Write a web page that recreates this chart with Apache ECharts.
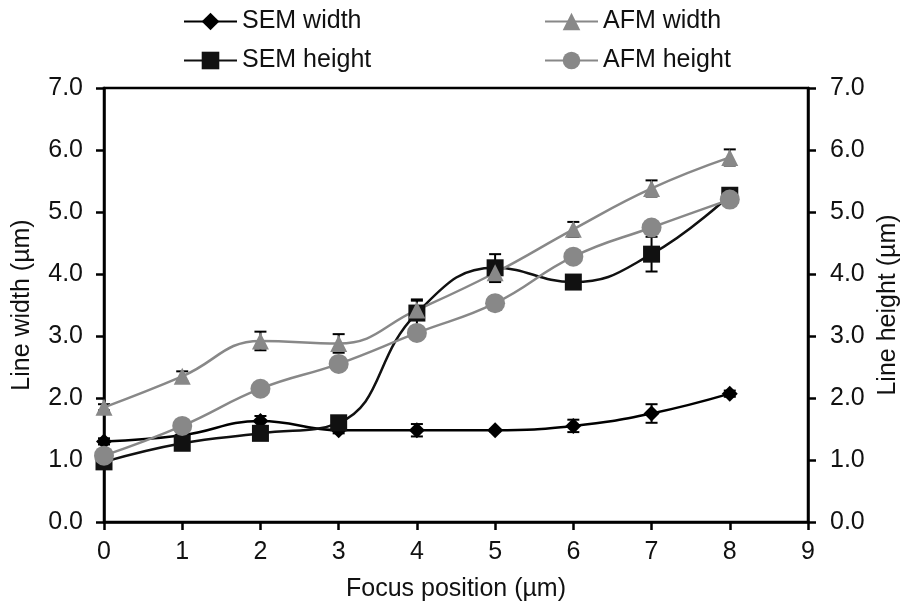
<!DOCTYPE html>
<html>
<head>
<meta charset="utf-8">
<title>Line width and height versus focus position</title>
<script src="https://cdn.jsdelivr.net/npm/echarts@6/dist/echarts.min.js"></script>
<style>
  html, body { margin: 0; padding: 0; background: #fff; }
  #chart { width: 909px; height: 607px; }
</style>
</head>
<body>
<div id="chart"></div>
<script>
// Focus positions (µm)
const focusPositions = [0, 1, 2, 3, 4, 5, 6, 7, 8];

// Measured line dimensions (µm)
const semWidth  = [1.30, 1.40, 1.63, 1.48, 1.48, 1.48, 1.55, 1.75, 2.07];
const semHeight = [0.97, 1.27, 1.43, 1.60, 3.37, 4.10, 3.87, 4.32, 5.27];
const afmWidth  = [1.85, 2.35, 2.92, 2.88, 3.42, 4.02, 4.72, 5.38, 5.88];
const afmHeight = [1.07, 1.55, 2.15, 2.55, 3.05, 3.53, 4.28, 4.75, 5.20];

// Standard deviations (µm)
const semWidthErr  = [0.05, 0.05, 0.08, 0.05, 0.10, 0.02, 0.10, 0.15, 0.05];
const semHeightErr = [0.05, 0.05, 0.05, 0.05, 0.22, 0.22, 0.05, 0.28, 0.05];
const afmWidthErr  = [0.05, 0.08, 0.15, 0.15, 0.15, 0.15, 0.12, 0.13, 0.13];
const afmHeightErr = [0.03, 0.03, 0.03, 0.03, 0.03, 0.03, 0.03, 0.03, 0.03];

// Axis tick labels
const yTickLabels = ['0.0', '1.0', '2.0', '3.0', '4.0', '5.0', '6.0', '7.0'];

const BLACK = '#000000';
const GREY = '#888888';
const FONT = 'Liberation Sans, Arial, sans-serif';
const FS = 25;

function points(values) {
  return focusPositions.map((x, i) => [x, values[i]]);
}
function errRows(values, errs) {
  return focusPositions.map((x, i) => [x, values[i] - errs[i], values[i] + errs[i]]);
}

function errorBarSeries(name, values, errs, yAxisIndex) {
  return {
    type: 'custom',
    name: name + ' error',
    xAxisIndex: 0,
    yAxisIndex: yAxisIndex,
    data: errRows(values, errs),
    z: 1,
    silent: true,
    renderItem: function (params, api) {
      const x = api.value(0);
      const lo = api.coord([x, api.value(1)]);
      const hi = api.coord([x, api.value(2)]);
      const half = 6;
      const style = { stroke: BLACK, lineWidth: 2, fill: null };
      return {
        type: 'group',
        children: [
          { type: 'line', shape: { x1: lo[0], y1: lo[1], x2: hi[0], y2: hi[1] }, style: style },
          { type: 'line', shape: { x1: lo[0] - half, y1: lo[1], x2: lo[0] + half, y2: lo[1] }, style: style },
          { type: 'line', shape: { x1: hi[0] - half, y1: hi[1], x2: hi[0] + half, y2: hi[1] }, style: style }
        ]
      };
    }
  };
}

function lineSeries(name, values, color, symbol, size, yAxisIndex, lw) {
  return {
    type: 'line',
    name: name,
    xAxisIndex: 0,
    yAxisIndex: yAxisIndex,
    data: points(values),
    smooth: 0.45,
    symbol: symbol,
    symbolSize: size,
    showAllSymbol: true,
    z: 3,
    lineStyle: { color: color, width: lw },
    itemStyle: { color: color, borderWidth: 0, opacity: 1 },
    emphasis: { disabled: true }
  };
}

const axisCommon = {
  type: 'value',
  min: 0,
  max: 7,
  interval: 1,
  splitLine: { show: false },
  axisLine: { show: true, lineStyle: { color: BLACK, width: 2.5 } },
  axisTick: { show: true, inside: false, length: 8, lineStyle: { color: BLACK, width: 2.5 } },
  axisLabel: {
    color: '#111', fontFamily: FONT, fontSize: FS,
    formatter: v => yTickLabels[Math.round(v)]
  },
  nameLocation: 'middle',
  nameTextStyle: { color: '#111', fontFamily: FONT, fontSize: FS }
};

const legendText = { color: '#111', fontFamily: FONT, fontSize: FS };

const option = {
  animation: false,
  backgroundColor: '#ffffff',
  legend: [
    {
      data: ['SEM width', 'SEM height'],
      orient: 'vertical',
      left: 178, top: 4,
      itemWidth: 53, itemHeight: 22, itemGap: 14,
      textStyle: legendText,
      selectedMode: false
    },
    {
      data: ['AFM width', 'AFM height'],
      orient: 'vertical',
      left: 539, top: 4,
      itemWidth: 53, itemHeight: 22, itemGap: 14,
      textStyle: legendText,
      selectedMode: false
    }
  ],
  grid: { left: 104, right: 100, top: 88, bottom: 85, containLabel: false,
          show: true, borderColor: BLACK, borderWidth: 2.5 },
  xAxis: {
    type: 'value',
    min: 0, max: 9, interval: 1,
    splitLine: { show: false },
    axisLine: { show: true, onZero: false, lineStyle: { color: BLACK, width: 2.5 } },
    axisTick: { show: true, length: 8, lineStyle: { color: BLACK, width: 2.5 } },
    axisLabel: { color: '#111', fontFamily: FONT, fontSize: FS, margin: 18 },
    name: 'Focus position (µm)',
    nameLocation: 'middle',
    nameGap: 55,
    nameTextStyle: { color: '#111', fontFamily: FONT, fontSize: FS }
  },
  yAxis: [
    Object.assign({}, axisCommon, {
      position: 'left', name: 'Line width (µm)', nameGap: 69,
      axisLabel: Object.assign({}, axisCommon.axisLabel, { margin: 21 })
    }),
    Object.assign({}, axisCommon, {
      position: 'right', name: 'Line height (µm)', nameGap: 68,
      axisLabel: Object.assign({}, axisCommon.axisLabel, { margin: 22 })
    })
  ],
  series: [
    errorBarSeries('SEM width', semWidth, semWidthErr, 0),
    errorBarSeries('SEM height', semHeight, semHeightErr, 1),
    errorBarSeries('AFM width', afmWidth, afmWidthErr, 0),
    errorBarSeries('AFM height', afmHeight, afmHeightErr, 1),
    lineSeries('SEM width', semWidth, BLACK, 'diamond', 16, 0, 2.5),
    lineSeries('SEM height', semHeight, '#111111', 'rect', 17, 1, 2.5),
    lineSeries('AFM width', afmWidth, GREY, 'triangle', 17, 0, 2.5),
    lineSeries('AFM height', afmHeight, GREY, 'circle', 20, 1, 2.5)
  ]
};

const chart = echarts.init(document.getElementById('chart'), null, { renderer: 'canvas' });
chart.setOption(option);
</script>
</body>
</html>
